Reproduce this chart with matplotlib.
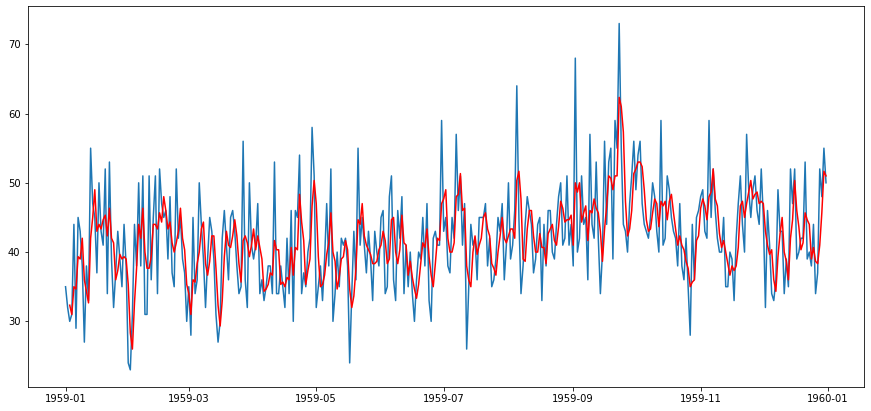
import pandas as pd
import matplotlib.pyplot as plt

# daily female births, 1959 (one value per day)
births = [
    35, 32, 30, 31, 44, 29, 45, 43, 38, 27, 38, 33, 55, 47, 45, 37, 50, 43, 41, 52, 34, 53, 39, 32, 37, 43, 39, 35, 44, 38, 24,
    23, 31, 44, 38, 50, 38, 51, 31, 31, 51, 36, 45, 51, 34, 52, 47, 45, 46, 39, 48, 37, 35, 52, 42, 45, 39, 37, 30,
    35, 28, 45, 34, 36, 50, 44, 39, 32, 39, 45, 43, 39, 31, 27, 30, 42, 46, 41, 36, 45, 46, 43, 38, 34, 35, 56, 36, 32, 50, 41,
    39, 41, 47, 34, 36, 33, 35, 38, 38, 34, 53, 34, 34, 38, 35, 32, 42, 34, 46, 30, 46, 45, 54, 34, 37, 35, 40, 42, 58, 51,
    32, 35, 38, 33, 39, 47, 38, 52, 30, 34, 40, 35, 42, 41, 42, 38, 24, 34, 43, 36, 55, 41, 45, 41, 37, 43, 39, 33, 43, 40, 38,
    45, 46, 34, 35, 48, 51, 36, 33, 46, 42, 48, 34, 41, 35, 40, 34, 30, 36, 40, 39, 45, 38, 47, 33, 30, 42, 43, 41, 41, 59,
    43, 45, 38, 37, 45, 42, 57, 46, 51, 41, 47, 26, 35, 44, 41, 42, 36, 45, 45, 45, 47, 38, 42, 35, 36, 39, 45, 43, 47, 36, 41,
    50, 39, 41, 46, 64, 45, 34, 38, 44, 48, 46, 44, 37, 39, 44, 45, 33, 44, 38, 46, 46, 40, 39, 44, 48, 50, 41, 42, 51, 41, 44,
    38, 68, 40, 42, 51, 44, 45, 36, 57, 44, 42, 53, 42, 34, 40, 56, 44, 53, 55, 39, 59, 55, 73, 55, 44, 43, 40, 47, 51, 56,
    49, 54, 56, 47, 44, 43, 42, 45, 50, 48, 43, 40, 59, 41, 42, 51, 49, 45, 43, 42, 38, 47, 38, 36, 42, 35, 28, 44, 36, 45, 46,
    48, 49, 43, 42, 59, 45, 52, 46, 42, 40, 40, 45, 35, 35, 40, 39, 33, 42, 47, 51, 44, 40, 57, 49, 45, 49, 51, 46, 44, 52,
    45, 32, 46, 41, 34, 33, 36, 49, 43, 43, 34, 39, 35, 52, 47, 52, 39, 40, 42, 42, 53, 39, 40, 38, 44, 34, 37, 52, 48, 55, 50,
]

dates = pd.date_range('1959-01-01', periods=len(births), freq='D')
series = pd.Series(births, index=dates)

# 3日移動平均
rolling = series.rolling(window=3).mean()

plt.figure(figsize=(871 / 72, 411 / 72), dpi=72)
ax = plt.axes([0.0316, 0.058, 0.9604, 0.927])
ax.plot(series.index, series.values, color='#1f77b4', linewidth=1.5)
ax.plot(rolling.index, rolling.values, color='red', linewidth=1.5)
ax.tick_params(labelsize=10)
plt.savefig('out.png', dpi=72)
plt.close()
